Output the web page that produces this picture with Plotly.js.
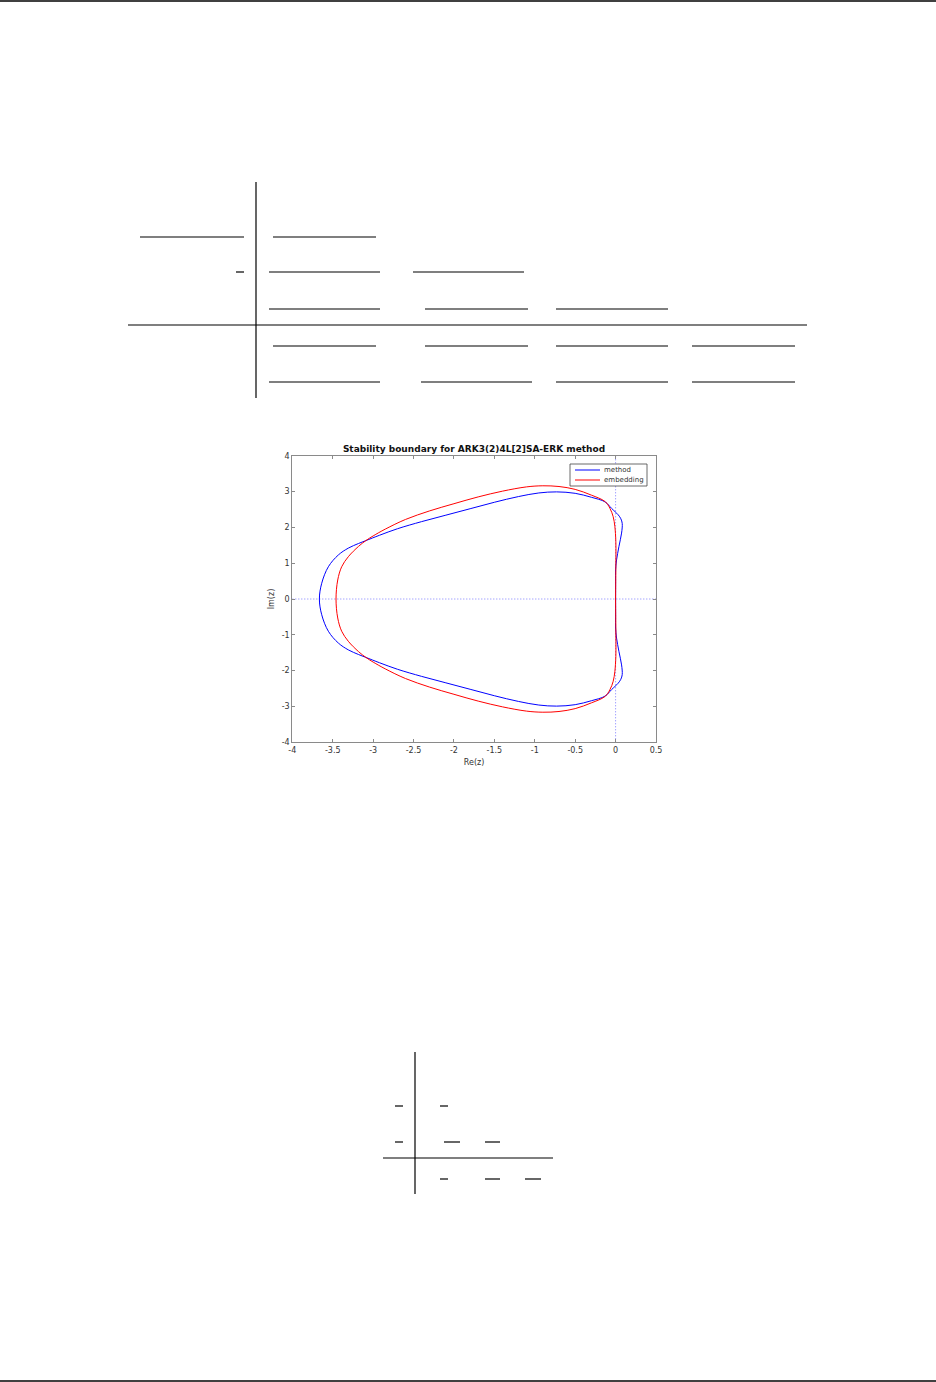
<!DOCTYPE html>
<html>
<head>
<meta charset="utf-8">
<script src="https://cdn.plot.ly/plotly-3.0.1.min.js"></script>
<style>
html,body{margin:0;padding:0;background:#fff;}
#page{width:936px;height:1382px;}
</style>
</head>
<body>
<div id="page"></div>
<script>
// ---- data ----
const methodRe = [0, 0.0, 0.0, 0.012, 0.041, 0.074, 0.082, 0.065, 0.032, -0.05, -0.13, -0.3, -0.5, -0.73, -0.95, -1.2, -1.5, -1.8, -2.1, -2.4, -2.7, -2.92, -3.09, -3.18, -3.307, -3.43, -3.554, -3.636, -3.665,
  -3.636, -3.554, -3.43, -3.307, -3.18, -3.09, -2.92, -2.7, -2.4, -2.1, -1.8, -1.5, -1.2, -0.95, -0.73, -0.5, -0.3, -0.13, -0.05, 0.032, 0.065, 0.082, 0.074, 0.041, 0.012, 0.0, 0.0, 0];
const methodIm = [0, 0.5, 0.81, 1.09, 1.46, 1.84, 2.11, 2.24, 2.35, 2.53, 2.71, 2.84, 2.95, 2.99, 2.96, 2.86, 2.7, 2.52, 2.34, 2.16, 1.96, 1.78, 1.63, 1.55, 1.42, 1.23, 0.9, 0.44, 0,
  -0.44, -0.9, -1.23, -1.42, -1.55, -1.63, -1.78, -1.96, -2.16, -2.34, -2.52, -2.7, -2.86, -2.96, -2.99, -2.95, -2.84, -2.71, -2.53, -2.35, -2.24, -2.11, -1.84, -1.46, -1.09, -0.81, -0.5, 0];

const embedRe = [0, 0.003, 0.003, -0.009, -0.03, -0.07, -0.13, -0.3, -0.5, -0.7, -0.9, -1.1, -1.4, -1.7, -2.0, -2.3, -2.6, -2.85, -3.0, -3.09, -3.18, -3.307, -3.389, -3.438, -3.459,
  -3.438, -3.389, -3.307, -3.18, -3.09, -3.0, -2.85, -2.6, -2.3, -2.0, -1.7, -1.4, -1.1, -0.9, -0.7, -0.5, -0.3, -0.13, -0.07, -0.03, -0.009, 0.003, 0.003, 0];
const embedIm = [0, 0.8, 1.6, 2.02, 2.3, 2.53, 2.72, 2.9, 3.06, 3.14, 3.16, 3.13, 3.01, 2.85, 2.66, 2.46, 2.22, 1.95, 1.76, 1.63, 1.47, 1.18, 0.9, 0.53, 0,
  -0.53, -0.9, -1.18, -1.47, -1.63, -1.76, -1.95, -2.22, -2.46, -2.66, -2.85, -3.01, -3.13, -3.16, -3.14, -3.06, -2.9, -2.72, -2.53, -2.3, -2.02, -1.6, -0.8, 0];

const seriesNames = ["method", "embedding"];
const seriesColors = ["#0000ff", "#ff0000"];
const xTickVals = [-4, -3.5, -3, -2.5, -2, -1.5, -1, -0.5, 0, 0.5];
const xTickText = ["-4", "-3.5", "-3", "-2.5", "-2", "-1.5", "-1", "-0.5", "0", "0.5"];
const yTickVals = [-4, -3, -2, -1, 0, 1, 2, 3, 4];
const yTickText = ["-4", "-3", "-2", "-1", "0", "1", "2", "3", "4"];
const titleText = "Stability boundary for ARK3(2)4L[2]SA-ERK method";
const xTitle = "Re(z)";
const yTitle = "Im(z)";

// ---- page geometry helpers (pixels -> paper) ----
const W = 936, H = 1382;
const px = v => v / W;
const py = v => 1 - v / H;
function rule(x0, x1, y, w, c) {
  return {type: 'line', xref: 'paper', yref: 'paper', x0: px(x0), x1: px(x1), y0: py(y), y1: py(y),
          line: {color: c || '#000', width: w || 1.2}, layer: 'above'};
}
function vrule(x, y0, y1, w) {
  return {type: 'line', xref: 'paper', yref: 'paper', x0: px(x), x1: px(x), y0: py(y0), y1: py(y1),
          line: {color: '#000', width: w || 1.2}, layer: 'above'};
}

const shapes = [
  // page header / footer rules
  rule(0, 936, 1, 1.5), rule(0, 936, 1381, 1.5),
  // first tableau
  vrule(256, 182, 398), rule(128, 807, 325),
  rule(140, 244, 237), rule(273, 376, 237),
  rule(236, 244, 272), rule(269, 380, 272), rule(413, 524, 272),
  rule(269, 380, 309), rule(425, 528, 309), rule(556, 668, 309),
  rule(273, 376, 346), rule(425, 528, 346), rule(556, 668, 346), rule(692, 795, 346),
  rule(269, 380, 382), rule(421, 532, 382), rule(556, 668, 382), rule(692, 795, 382),
  // second tableau
  vrule(415, 1052, 1194), rule(383, 553, 1158),
  rule(395, 403, 1106), rule(440, 448, 1106),
  rule(395, 403, 1142), rule(444, 460, 1142), rule(485, 500, 1142),
  rule(440, 448, 1179), rule(485, 500, 1179), rule(525, 541, 1179),
  // dotted axes through the origin
  {type: 'line', xref: 'x', yref: 'y', x0: -4, x1: 0.5, y0: 0, y1: 0, layer: 'below',
   line: {color: 'rgba(70,70,255,0.7)', width: 1, dash: '1px,2px'}},
  {type: 'line', xref: 'x', yref: 'y', x0: 0, x1: 0, y0: -4, y1: 4, layer: 'below',
   line: {color: 'rgba(70,70,255,0.7)', width: 1, dash: '1px,2px'}},
  // legend box and samples
  {type: 'rect', xref: 'paper', yref: 'paper', x0: px(570), x1: px(647), y0: py(486), y1: py(464),
   fillcolor: '#fff', line: {color: '#444', width: 0.8}, layer: 'above'},
  rule(575, 600, 470, 1, seriesColors[0]),
  rule(575, 600, 480, 1, seriesColors[1])
];

const annotations = [
  {text: seriesNames[0], xref: 'paper', yref: 'paper', x: px(602), y: py(470), xanchor: 'left', yanchor: 'middle',
   showarrow: false, font: {family: 'DejaVu Sans', size: 7, color: '#333'}},
  {text: seriesNames[1], xref: 'paper', yref: 'paper', x: px(602), y: py(480), xanchor: 'left', yanchor: 'middle',
   showarrow: false, font: {family: 'DejaVu Sans', size: 7, color: '#333'}}
];

const traces = [
  {x: methodRe, y: methodIm, name: seriesNames[0], type: 'scatter', mode: 'lines',
   line: {color: seriesColors[0], width: 1, shape: 'spline', smoothing: 1}},
  {x: embedRe, y: embedIm, name: seriesNames[1], type: 'scatter', mode: 'lines',
   line: {color: seriesColors[1], width: 1, shape: 'spline', smoothing: 1}}
];

const axisCommon = {
  showline: true, linecolor: '#8a8a8a', linewidth: 1, mirror: 'ticks',
  ticks: 'inside', ticklen: 3, tickcolor: '#8a8a8a', tickwidth: 1,
  showgrid: false, zeroline: false, automargin: false, tickmode: 'array',
  tickfont: {family: 'DejaVu Sans', size: 8, color: '#333'}, fixedrange: true
};

const layout = {
  width: W, height: H,
  margin: {l: 0, r: 0, t: 0, b: 0, pad: 0},
  paper_bgcolor: '#fff', plot_bgcolor: '#fff',
  font: {family: 'DejaVu Sans', color: '#333'},
  title: {text: '<b>' + titleText + '</b>', font: {family: 'DejaVu Sans', size: 9, color: '#111'},
          x: px(474), xanchor: 'center', xref: 'paper', y: py(449), yanchor: 'middle', yref: 'container'},
  xaxis: Object.assign({}, axisCommon, {domain: [px(292.3), px(656)], range: [-4, 0.5],
          tickvals: xTickVals, ticktext: xTickText,
          title: {text: xTitle, font: {family: 'DejaVu Sans', size: 8, color: '#333'}, standoff: 5}}),
  yaxis: Object.assign({}, axisCommon, {domain: [py(742.3), py(455.7)], range: [-4, 4],
          tickvals: yTickVals, ticktext: yTickText,
          title: {text: yTitle, font: {family: 'DejaVu Sans', size: 8, color: '#333'}, standoff: 5}}),
  showlegend: false,
  shapes: shapes,
  annotations: annotations
};

Plotly.newPlot('page', traces, layout, {displayModeBar: false, staticPlot: true});
</script>
</body>
</html>
